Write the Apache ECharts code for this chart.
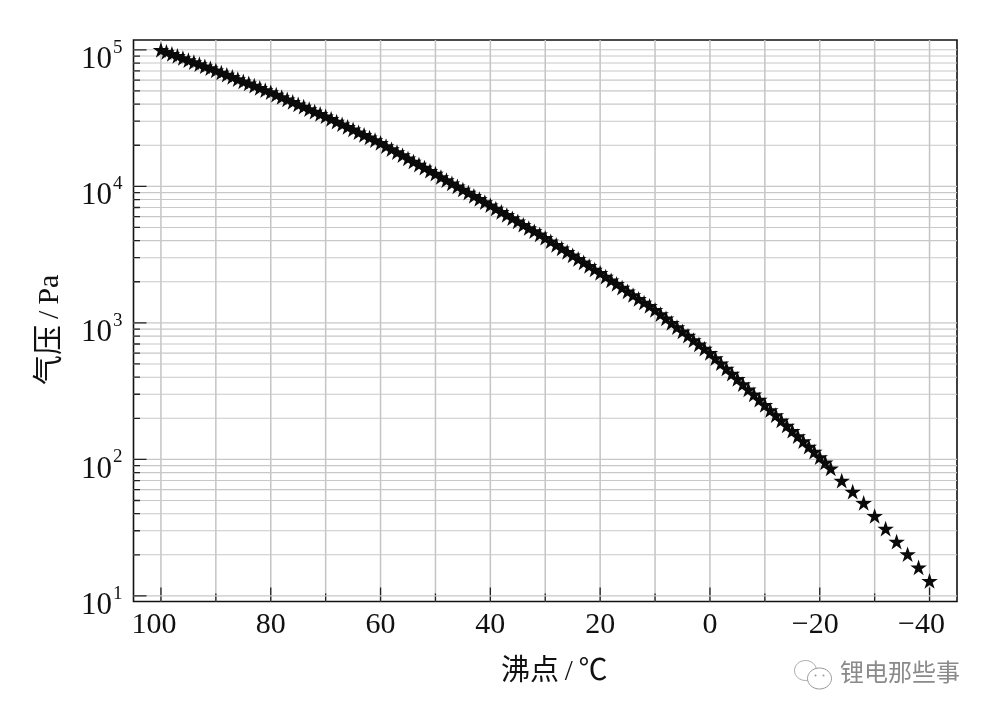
<!DOCTYPE html>
<html><head><meta charset="utf-8">
<style>html,body{margin:0;padding:0;background:#fff}#c{width:992px;height:718px}</style>
<script src="https://cdn.jsdelivr.net/npm/echarts@6/dist/echarts.min.js"></script>
</head><body><div id="c"></div>
<script>
const temperatures = [100,99,98,97,96,95,94,93,92,91,90,89,88,87,86,85,84,83,82,81,80,79,78,77,76,75,74,73,72,71,70,69,68,67,66,65,64,63,62,61,60,59,58,57,56,55,54,53,52,51,50,49,48,47,46,45,44,43,42,41,40,39,38,37,36,35,34,33,32,31,30,29,28,27,26,25,24,23,22,21,20,19,18,17,16,15,14,13,12,11,10,9,8,7,6,5,4,3,2,1,0,-1,-2,-3,-4,-5,-6,-7,-8,-9,-10,-11,-12,-13,-14,-15,-16,-17,-18,-19,-20,-21,-22,-24,-26,-28,-30,-32,-34,-36,-38,-40];
const pressures = [100000,96600,93300,90200,87100,84100,81300,78500,75800,73300,70800,68200,65700,63300,61000,58800,56700,54600,52600,50700,48900,47000,45100,43300,41600,39900,38300,36800,35300,33900,32600,31200,29800,28500,27300,26100,24900,23800,22800,21800,20800,19700,18700,17800,16900,16000,15200,14400,13700,13000,12400,11700,11100,10500,10000,9480,8990,8520,8080,7660,7270,6880,6510,6170,5840,5530,5230,4950,4690,4440,4200,3960,3730,3510,3310,3120,2940,2770,2610,2460,2320,2180,2050,1930,1810,1700,1600,1500,1410,1330,1245,1160,1080,1000,930,865,805,748,696,647,603,552,506,463,424,389,356,326,299,274,251,230,211,193,177,162,148,136,124,114,104,95,86,70,58,48,38.5,31.1,25,20.2,16.2,12.9];
const xMajorTicks = [100,80,60,40,20,0,-20,-40];
const xMinorTicks = [90,70,50,30,10,-10,-30];
const yMajorTicks = [10,100,1000,10000,100000];
const yMinorTicks = [20,30,40,50,60,70,80,90,200,300,400,500,600,700,800,900,2000,3000,4000,5000,6000,7000,8000,9000,20000,30000,40000,50000,60000,70000,80000,90000];
const xLimits = [-45,105];
const yLimits = [9.1,118000];

const STAR = 'path://M50 0 L61.2 34.5 L97.6 34.5 L68.2 55.9 L79.4 90.5 L50 69.1 L20.6 90.5 L31.8 55.9 L2.4 34.5 L38.8 34.5 Z';
const serif = '"Liberation Serif","Noto Sans CJK SC",serif';
const greyV = '#c4c4c4';
const greyH = '#c8c8c8';

function line(x1,y1,x2,y2,color,w){
  return {type:'line',shape:{x1,y1,x2,y2},style:{stroke:color,lineWidth:w}};
}
function vItem(params,api){
  const v=api.value(0), major=api.value(2)===1;
  const b=api.coord([v,yLimits[0]]), t=api.coord([v,yLimits[1]]);
  return {type:'group',children:[
    line(b[0],b[1],b[0],t[1],greyV,1.5),
    line(b[0],b[1],b[0],b[1]-(major?14:8),'#222',1.3)]};
}
function hItem(params,api){
  const v=api.value(1), major=api.value(2)===1;
  const l=api.coord([xLimits[1],v]), r=api.coord([xLimits[0],v]);
  return {type:'group',children:[
    line(l[0],l[1],r[0],l[1],greyH,1.1),
    line(l[0],l[1],l[0]+(major?13:6.5),l[1],'#222',1.3)]};
}
const vData = xMajorTicks.map(v=>[v,yLimits[1],1]).concat(xMinorTicks.map(v=>[v,yLimits[1],0]));
const hData = yMajorTicks.map(v=>[xLimits[1],v,1]).concat(yMinorTicks.map(v=>[xLimits[1],v,0]));

const chart = echarts.init(document.getElementById('c'),null,{renderer:'canvas'});
chart.setOption({
  animation:false,
  backgroundColor:'#fff',
  textStyle:{fontFamily:serif},
  grid:{left:133.5,right:35,top:40,bottom:116.5,show:true,borderColor:'#111',borderWidth:1.6,backgroundColor:'#fff',z:5},
  xAxis:{
    type:'value',inverse:true,min:xLimits[0],max:xLimits[1],
    axisLine:{show:false},axisTick:{show:false},splitLine:{show:false},
    axisLabel:{
      customValues:xMajorTicks,margin:9,color:'#111',fontFamily:serif,fontSize:30,
      formatter:v=>{
        if(v===100) return '{l|100}';
        if(v===-20) return '{m|\u221220}';
        if(v===-40) return '{n|\u221240}';
        return String(v);
      },
      rich:{
        l:{fontFamily:serif,fontSize:30,color:'#111',padding:[0,14,0,0]},
        m:{fontFamily:serif,fontSize:30,color:'#111',padding:[0,9,0,0]},
        n:{fontFamily:serif,fontSize:30,color:'#111',padding:[0,16,0,0]}
      }
    },
    name:'沸点\u2009/\u2009℃',nameLocation:'middle',nameGap:56,
    nameTextStyle:{fontFamily:serif,fontSize:29,color:'#111',padding:[0,0,0,18]}
  },
  yAxis:{
    type:'log',logBase:10,min:yLimits[0],max:yLimits[1],
    axisLine:{show:false},axisTick:{show:false},splitLine:{show:false},minorTick:{show:false},
    axisLabel:{
      customValues:yMajorTicks,margin:11,fontFamily:serif,color:'#111',
      formatter:v=>{
        const e=Math.round(Math.log10(v));
        return '{b|10}{s|'+e+'}';
      },
      rich:{
        b:{fontFamily:serif,fontSize:31,color:'#111',padding:[20,0,0,0]},
        s:{fontFamily:serif,fontSize:19,color:'#111',padding:[0,0,4,1]}
      }
    },
    name:'气压\u2009/\u2009Pa',nameLocation:'middle',nameGap:68,nameRotate:90,
    nameTextStyle:{fontFamily:serif,fontSize:30,color:'#111',padding:[0,18,0,0]}
  },
  series:[
    {type:'custom',renderItem:vItem,data:vData,z:6,silent:true,clip:true,encode:{x:0,y:1}},
    {type:'custom',renderItem:hItem,data:hData,z:6,silent:true,clip:true,encode:{x:0,y:1}},
    {type:'scatter',z:10,symbol:STAR,symbolSize:16.5,symbolKeepAspect:true,
     itemStyle:{color:'#0a0a0a',opacity:1},
     data:temperatures.map((t,i)=>[t,pressures[i]])}
  ],
  graphic:[
    {type:'text',left:840,top:660,style:{text:'锂电那些事',fontFamily:'"Noto Sans CJK SC"',fontSize:24,fill:'#8a8a8a'}},
    {type:'group',left:794,top:660,children:[
      {type:'ellipse',shape:{cx:12,cy:11,rx:11,ry:10},style:{fill:'#fff',stroke:'#aaa',lineWidth:1}},
      {type:'ellipse',shape:{cx:26,cy:19,rx:12,ry:10.5},style:{fill:'#fff',stroke:'#999',lineWidth:1}},
      {type:'circle',shape:{cx:22,cy:16,r:1},style:{fill:'#999'}},
      {type:'circle',shape:{cx:30,cy:16,r:1},style:{fill:'#999'}}
    ]}
  ]
});
</script></body></html>
